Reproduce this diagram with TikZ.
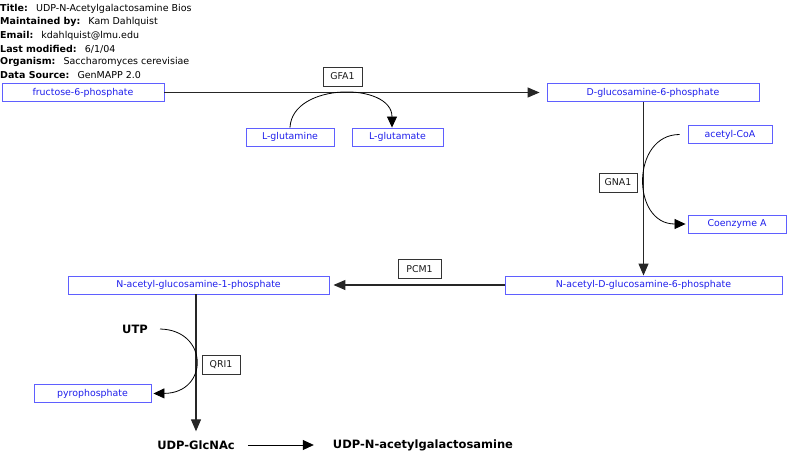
\documentclass[tikz,border=0pt]{standalone}
\usepackage{fontspec}
\setmainfont{DejaVu Sans}
\usetikzlibrary{arrows.meta}
\definecolor{metabblue}{RGB}{30,30,235}
\definecolor{metabedge}{RGB}{95,95,255}

\begin{document}
\begin{tikzpicture}[
    x=1pt, y=-1pt,
    font=\fontsize{9.4}{11}\selectfont,
    metab/.style={draw=metabedge, text=metabblue, line width=0.9pt,
        minimum width=#1, minimum height=18pt, inner sep=0pt},
    metab/.default=100,
    gene/.style={draw=black!80, text=black!90, line width=0.8pt,
        minimum width=#1, minimum height=19pt, inner sep=0pt},
    gene/.default=40,
    chem/.style={font=\bfseries\fontsize{11.5}{13}\selectfont, inner sep=0pt},
    hdr/.style={anchor=west, inner sep=0pt, font=\fontsize{9.5}{11}\selectfont},
    rxn/.style={draw=black!85, line width=1.2pt, -{Triangle[length=12pt,width=10pt]}},
    side/.style={draw=black, line width=0.8pt, -{Triangle[length=11pt,width=10pt]}}
]
    \useasboundingbox (0,0) rectangle (800,468);

    % Header
    \begin{scope}
        \clip (0,0) rectangle (191,16);
        \node[hdr] (title) at (0,9) {\textbf{Title:}\hspace{0.85em}UDP-N-Acetylgalactosamine Biosynthesis};
    \end{scope}
    \node[hdr] (maint) at (0,22) {\textbf{Maintained by:}\hspace{0.85em}Kam Dahlquist};
    \node[hdr] (email) at (0,36) {\textbf{Email:}\hspace{0.85em}kdahlquist@lmu.edu};
    \node[hdr] (modif) at (0,49) {\textbf{Last modified:}\hspace{0.85em}6/1/04};
    \node[hdr] (organ) at (0,62) {\textbf{Organism:}\hspace{0.85em}Saccharomyces cerevisiae};
    \node[hdr] (source) at (0,75) {\textbf{Data Source:}\hspace{0.85em}GenMAPP 2.0};

    % Metabolites
    \node[metab=162] (f6p)   at (83,92.5)    {fructose-6-phosphate};
    \node[metab=212] (gn6p)  at (653,92.5)   {D-glucosamine-6-phosphate};
    \node[metab=88]  (gln)   at (290,137)    {L-glutamine};
    \node[metab=91]  (glt)   at (397.5,137)  {L-glutamate};
    \node[metab=84]  (acoa)  at (730,134.5)  {acetyl-CoA};
    \node[metab=98]  (coa)   at (737,224)    {Coenzyme A};
    \node[metab=277] (nag6p) at (643.5,285)  {N-acetyl-D-glucosamine-6-phosphate};
    \node[metab=261] (nag1p) at (198.5,285)  {N-acetyl-glucosamine-1-phosphate};
    \node[metab=117] (ppi)   at (92.5,393.5) {pyrophosphate};

    \node[chem] (utp)    at (135,329) {UTP};
    \node[chem] (udpglc) at (196,445) {UDP-GlcNAc};
    \node[chem] (udpgal) at (423,445) {UDP-N-acetylgalactosamine};

    % Genes
    \node[gene=39] (gfa1) at (342.5,76.5) {GFA1};
    \node[gene=38] (gna1) at (618,182.5)  {GNA1};
    \node[gene=43] (pcm1) at (419.5,269)  {PCM1};
    \node[gene=38] (qri1) at (221,365)    {QRI1};

    % Main reactions
    \draw[rxn] (f6p.east) -- ([xshift=-7pt]gn6p.west);
    \draw[rxn] (gn6p.south -| nag6p.north) -- (nag6p.north);
    \draw[rxn] (nag6p.west) -- ([xshift=4pt]nag1p.east);
    \draw[rxn] (nag1p.south -| udpglc.north) -- ([yshift=9pt]udpglc.north);
    \draw[side] ([xshift=13pt]udpglc.east) -- ([xshift=-19pt]udpgal.west);

    % Side reactions
    \draw[side] (gln.north) .. controls (292,82) and (392,82) .. ([xshift=-5.5pt]glt.north);
    \draw[side] ([xshift=-8pt]acoa.west) .. controls (631,134.5) and (631,224) .. ([xshift=-2pt]coa.west);
    \draw[side] ([xshift=12pt]utp.east) .. controls (209,330) and (209,393) .. ([xshift=2pt]ppi.east);

\end{tikzpicture}
\end{document}
